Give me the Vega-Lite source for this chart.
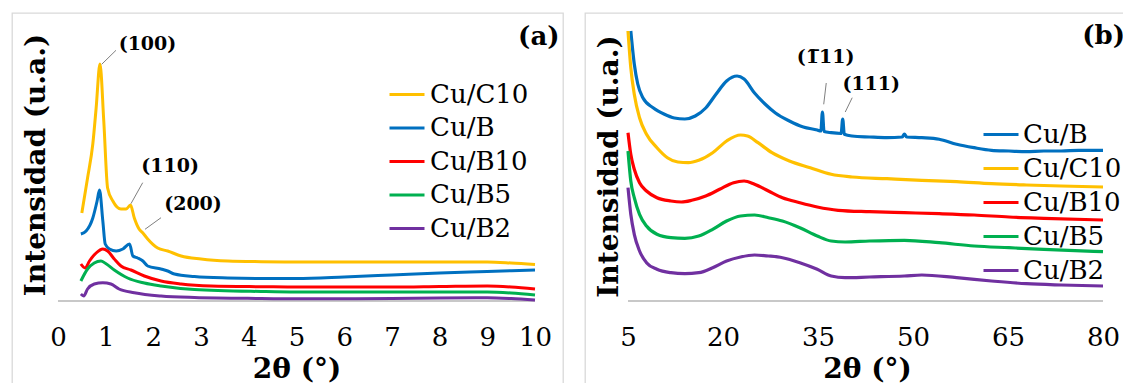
{
  "$schema": "https://vega.github.io/schema/vega-lite/v6.json",
  "background": "white",
  "padding": {"left": 11, "top": 12, "right": -10, "bottom": -9},
  "config": {
    "font": "DejaVu Serif",
    "view": {"stroke": "#d9d9d9", "strokeWidth": 1.3},
    "concat": {"spacing": 20},
    "axis": {"grid": false}
  },
  "datasets": {
    "xrdA": [
      {"muestra": "Cu/C10", "dos_theta": 0.5, "intensidad": 88},
      {"muestra": "Cu/C10", "dos_theta": 0.62, "intensidad": 123},
      {"muestra": "Cu/C10", "dos_theta": 0.73, "intensidad": 157},
      {"muestra": "Cu/C10", "dos_theta": 0.8, "intensidad": 193},
      {"muestra": "Cu/C10", "dos_theta": 0.88, "intensidad": 237},
      {"muestra": "Cu/C10", "dos_theta": 0.96, "intensidad": 180},
      {"muestra": "Cu/C10", "dos_theta": 1.04, "intensidad": 113},
      {"muestra": "Cu/C10", "dos_theta": 1.15, "intensidad": 100},
      {"muestra": "Cu/C10", "dos_theta": 1.32, "intensidad": 92},
      {"muestra": "Cu/C10", "dos_theta": 1.43, "intensidad": 92},
      {"muestra": "Cu/C10", "dos_theta": 1.52, "intensidad": 96},
      {"muestra": "Cu/C10", "dos_theta": 1.6, "intensidad": 83},
      {"muestra": "Cu/C10", "dos_theta": 1.7, "intensidad": 72},
      {"muestra": "Cu/C10", "dos_theta": 1.78, "intensidad": 68},
      {"muestra": "Cu/C10", "dos_theta": 1.88, "intensidad": 62},
      {"muestra": "Cu/C10", "dos_theta": 2.09, "intensidad": 53},
      {"muestra": "Cu/C10", "dos_theta": 2.3, "intensidad": 50},
      {"muestra": "Cu/C10", "dos_theta": 2.58, "intensidad": 45},
      {"muestra": "Cu/C10", "dos_theta": 3.0, "intensidad": 42},
      {"muestra": "Cu/C10", "dos_theta": 3.56, "intensidad": 40},
      {"muestra": "Cu/C10", "dos_theta": 4.26, "intensidad": 39.3},
      {"muestra": "Cu/C10", "dos_theta": 5, "intensidad": 39},
      {"muestra": "Cu/C10", "dos_theta": 6, "intensidad": 39},
      {"muestra": "Cu/C10", "dos_theta": 7, "intensidad": 39},
      {"muestra": "Cu/C10", "dos_theta": 8, "intensidad": 39},
      {"muestra": "Cu/C10", "dos_theta": 9, "intensidad": 39},
      {"muestra": "Cu/C10", "dos_theta": 9.5, "intensidad": 38},
      {"muestra": "Cu/C10", "dos_theta": 10, "intensidad": 36.5},
      {"muestra": "Cu/B", "dos_theta": 0.48, "intensidad": 67},
      {"muestra": "Cu/B", "dos_theta": 0.59, "intensidad": 70},
      {"muestra": "Cu/B", "dos_theta": 0.73, "intensidad": 83},
      {"muestra": "Cu/B", "dos_theta": 0.82, "intensidad": 100},
      {"muestra": "Cu/B", "dos_theta": 0.87, "intensidad": 111},
      {"muestra": "Cu/B", "dos_theta": 0.94, "intensidad": 80},
      {"muestra": "Cu/B", "dos_theta": 0.99, "intensidad": 57},
      {"muestra": "Cu/B", "dos_theta": 1.08, "intensidad": 52},
      {"muestra": "Cu/B", "dos_theta": 1.22, "intensidad": 50},
      {"muestra": "Cu/B", "dos_theta": 1.36, "intensidad": 52},
      {"muestra": "Cu/B", "dos_theta": 1.5, "intensidad": 57},
      {"muestra": "Cu/B", "dos_theta": 1.57, "intensidad": 45},
      {"muestra": "Cu/B", "dos_theta": 1.67, "intensidad": 43},
      {"muestra": "Cu/B", "dos_theta": 1.78, "intensidad": 40},
      {"muestra": "Cu/B", "dos_theta": 1.88, "intensidad": 35},
      {"muestra": "Cu/B", "dos_theta": 2.16, "intensidad": 32},
      {"muestra": "Cu/B", "dos_theta": 2.3, "intensidad": 30},
      {"muestra": "Cu/B", "dos_theta": 2.44, "intensidad": 27},
      {"muestra": "Cu/B", "dos_theta": 2.86, "intensidad": 24.5},
      {"muestra": "Cu/B", "dos_theta": 3.56, "intensidad": 23},
      {"muestra": "Cu/B", "dos_theta": 4.26, "intensidad": 22.5},
      {"muestra": "Cu/B", "dos_theta": 5, "intensidad": 22.5},
      {"muestra": "Cu/B", "dos_theta": 6, "intensidad": 24},
      {"muestra": "Cu/B", "dos_theta": 7, "intensidad": 26},
      {"muestra": "Cu/B", "dos_theta": 8, "intensidad": 28},
      {"muestra": "Cu/B", "dos_theta": 9, "intensidad": 29.5},
      {"muestra": "Cu/B", "dos_theta": 10, "intensidad": 31},
      {"muestra": "Cu/B10", "dos_theta": 0.48, "intensidad": 37},
      {"muestra": "Cu/B10", "dos_theta": 0.57, "intensidad": 33},
      {"muestra": "Cu/B10", "dos_theta": 0.66, "intensidad": 40},
      {"muestra": "Cu/B10", "dos_theta": 0.8, "intensidad": 48},
      {"muestra": "Cu/B10", "dos_theta": 0.94, "intensidad": 52},
      {"muestra": "Cu/B10", "dos_theta": 1.04, "intensidad": 50},
      {"muestra": "Cu/B10", "dos_theta": 1.18, "intensidad": 42},
      {"muestra": "Cu/B10", "dos_theta": 1.32, "intensidad": 35},
      {"muestra": "Cu/B10", "dos_theta": 1.53, "intensidad": 31},
      {"muestra": "Cu/B10", "dos_theta": 1.81, "intensidad": 25},
      {"muestra": "Cu/B10", "dos_theta": 2.16, "intensidad": 20},
      {"muestra": "Cu/B10", "dos_theta": 2.58, "intensidad": 17},
      {"muestra": "Cu/B10", "dos_theta": 3.21, "intensidad": 15},
      {"muestra": "Cu/B10", "dos_theta": 4.26, "intensidad": 14.3},
      {"muestra": "Cu/B10", "dos_theta": 5, "intensidad": 14},
      {"muestra": "Cu/B10", "dos_theta": 6, "intensidad": 14},
      {"muestra": "Cu/B10", "dos_theta": 7, "intensidad": 14},
      {"muestra": "Cu/B10", "dos_theta": 8, "intensidad": 14.5},
      {"muestra": "Cu/B10", "dos_theta": 9, "intensidad": 15},
      {"muestra": "Cu/B10", "dos_theta": 9.5, "intensidad": 14},
      {"muestra": "Cu/B10", "dos_theta": 10, "intensidad": 12},
      {"muestra": "Cu/B5", "dos_theta": 0.48, "intensidad": 20},
      {"muestra": "Cu/B5", "dos_theta": 0.62, "intensidad": 32},
      {"muestra": "Cu/B5", "dos_theta": 0.76, "intensidad": 38},
      {"muestra": "Cu/B5", "dos_theta": 0.9, "intensidad": 40},
      {"muestra": "Cu/B5", "dos_theta": 1.0, "intensidad": 37.5},
      {"muestra": "Cu/B5", "dos_theta": 1.18, "intensidad": 31},
      {"muestra": "Cu/B5", "dos_theta": 1.46, "intensidad": 23},
      {"muestra": "Cu/B5", "dos_theta": 1.81, "intensidad": 18},
      {"muestra": "Cu/B5", "dos_theta": 2.16, "intensidad": 15},
      {"muestra": "Cu/B5", "dos_theta": 2.86, "intensidad": 11.5},
      {"muestra": "Cu/B5", "dos_theta": 4.26, "intensidad": 9.5},
      {"muestra": "Cu/B5", "dos_theta": 5, "intensidad": 9},
      {"muestra": "Cu/B5", "dos_theta": 6, "intensidad": 9},
      {"muestra": "Cu/B5", "dos_theta": 7, "intensidad": 9},
      {"muestra": "Cu/B5", "dos_theta": 8, "intensidad": 9},
      {"muestra": "Cu/B5", "dos_theta": 9, "intensidad": 9},
      {"muestra": "Cu/B5", "dos_theta": 9.5, "intensidad": 8},
      {"muestra": "Cu/B5", "dos_theta": 10, "intensidad": 6},
      {"muestra": "Cu/B2", "dos_theta": 0.48, "intensidad": 7},
      {"muestra": "Cu/B2", "dos_theta": 0.54, "intensidad": 5},
      {"muestra": "Cu/B2", "dos_theta": 0.62, "intensidad": 12},
      {"muestra": "Cu/B2", "dos_theta": 0.76, "intensidad": 17},
      {"muestra": "Cu/B2", "dos_theta": 0.94, "intensidad": 18.3},
      {"muestra": "Cu/B2", "dos_theta": 1.11, "intensidad": 17},
      {"muestra": "Cu/B2", "dos_theta": 1.28, "intensidad": 12},
      {"muestra": "Cu/B2", "dos_theta": 1.6, "intensidad": 8.3},
      {"muestra": "Cu/B2", "dos_theta": 2.16, "intensidad": 5},
      {"muestra": "Cu/B2", "dos_theta": 2.86, "intensidad": 3.5},
      {"muestra": "Cu/B2", "dos_theta": 4.26, "intensidad": 2.5},
      {"muestra": "Cu/B2", "dos_theta": 5, "intensidad": 2.2},
      {"muestra": "Cu/B2", "dos_theta": 6, "intensidad": 2.2},
      {"muestra": "Cu/B2", "dos_theta": 7, "intensidad": 2.5},
      {"muestra": "Cu/B2", "dos_theta": 8, "intensidad": 3},
      {"muestra": "Cu/B2", "dos_theta": 9, "intensidad": 3.3},
      {"muestra": "Cu/B2", "dos_theta": 9.5, "intensidad": 2.5},
      {"muestra": "Cu/B2", "dos_theta": 10, "intensidad": 1}
    ],
    "xrdB": [
      {"muestra": "Cu/B", "dos_theta": 5.44, "intensidad": 269},
      {"muestra": "Cu/B", "dos_theta": 5.99, "intensidad": 236},
      {"muestra": "Cu/B", "dos_theta": 6.54, "intensidad": 216},
      {"muestra": "Cu/B", "dos_theta": 7.37, "intensidad": 202},
      {"muestra": "Cu/B", "dos_theta": 9.02, "intensidad": 192},
      {"muestra": "Cu/B", "dos_theta": 10.67, "intensidad": 186},
      {"muestra": "Cu/B", "dos_theta": 12.32, "intensidad": 182},
      {"muestra": "Cu/B", "dos_theta": 13.97, "intensidad": 181},
      {"muestra": "Cu/B", "dos_theta": 15.62, "intensidad": 184},
      {"muestra": "Cu/B", "dos_theta": 17.27, "intensidad": 192},
      {"muestra": "Cu/B", "dos_theta": 18.92, "intensidad": 206},
      {"muestra": "Cu/B", "dos_theta": 20.57, "intensidad": 219},
      {"muestra": "Cu/B", "dos_theta": 22.22, "intensidad": 224},
      {"muestra": "Cu/B", "dos_theta": 23.33, "intensidad": 221},
      {"muestra": "Cu/B", "dos_theta": 24.98, "intensidad": 207},
      {"muestra": "Cu/B", "dos_theta": 26.63, "intensidad": 196},
      {"muestra": "Cu/B", "dos_theta": 28.28, "intensidad": 187},
      {"muestra": "Cu/B", "dos_theta": 30.48, "intensidad": 179},
      {"muestra": "Cu/B", "dos_theta": 32.68, "intensidad": 173},
      {"muestra": "Cu/B", "dos_theta": 34.88, "intensidad": 170},
      {"muestra": "Cu/B", "dos_theta": 35.45, "intensidad": 169},
      {"muestra": "Cu/B", "dos_theta": 35.7, "intensidad": 188},
      {"muestra": "Cu/B", "dos_theta": 35.95, "intensidad": 168.5},
      {"muestra": "Cu/B", "dos_theta": 37.08, "intensidad": 167.3},
      {"muestra": "Cu/B", "dos_theta": 38.65, "intensidad": 166.5},
      {"muestra": "Cu/B", "dos_theta": 38.9, "intensidad": 181},
      {"muestra": "Cu/B", "dos_theta": 39.15, "intensidad": 165.7},
      {"muestra": "Cu/B", "dos_theta": 40.38, "intensidad": 164},
      {"muestra": "Cu/B", "dos_theta": 43.13, "intensidad": 163},
      {"muestra": "Cu/B", "dos_theta": 45.89, "intensidad": 162.3},
      {"muestra": "Cu/B", "dos_theta": 48.3, "intensidad": 163},
      {"muestra": "Cu/B", "dos_theta": 48.64, "intensidad": 166},
      {"muestra": "Cu/B", "dos_theta": 49.0, "intensidad": 163},
      {"muestra": "Cu/B", "dos_theta": 51.39, "intensidad": 162.3},
      {"muestra": "Cu/B", "dos_theta": 54.14, "intensidad": 160.7},
      {"muestra": "Cu/B", "dos_theta": 56.89, "intensidad": 155.7},
      {"muestra": "Cu/B", "dos_theta": 59.65, "intensidad": 152.3},
      {"muestra": "Cu/B", "dos_theta": 62.4, "intensidad": 149.7},
      {"muestra": "Cu/B", "dos_theta": 65.15, "intensidad": 149},
      {"muestra": "Cu/B", "dos_theta": 67.9, "intensidad": 148.3},
      {"muestra": "Cu/B", "dos_theta": 70.65, "intensidad": 149},
      {"muestra": "Cu/B", "dos_theta": 73.4, "intensidad": 149},
      {"muestra": "Cu/B", "dos_theta": 76.15, "intensidad": 149.7},
      {"muestra": "Cu/B", "dos_theta": 80, "intensidad": 149.7},
      {"muestra": "Cu/C10", "dos_theta": 5, "intensidad": 269},
      {"muestra": "Cu/C10", "dos_theta": 5.44, "intensidad": 232.3},
      {"muestra": "Cu/C10", "dos_theta": 5.99, "intensidad": 205.7},
      {"muestra": "Cu/C10", "dos_theta": 6.82, "intensidad": 182.3},
      {"muestra": "Cu/C10", "dos_theta": 7.92, "intensidad": 165.7},
      {"muestra": "Cu/C10", "dos_theta": 9.57, "intensidad": 152.3},
      {"muestra": "Cu/C10", "dos_theta": 11.22, "intensidad": 142.3},
      {"muestra": "Cu/C10", "dos_theta": 12.87, "intensidad": 138},
      {"muestra": "Cu/C10", "dos_theta": 14.52, "intensidad": 137.3},
      {"muestra": "Cu/C10", "dos_theta": 16.17, "intensidad": 139.7},
      {"muestra": "Cu/C10", "dos_theta": 18.37, "intensidad": 147.3},
      {"muestra": "Cu/C10", "dos_theta": 20.57, "intensidad": 159},
      {"muestra": "Cu/C10", "dos_theta": 22.77, "intensidad": 165},
      {"muestra": "Cu/C10", "dos_theta": 23.87, "intensidad": 164},
      {"muestra": "Cu/C10", "dos_theta": 25.53, "intensidad": 157.3},
      {"muestra": "Cu/C10", "dos_theta": 27.73, "intensidad": 147.3},
      {"muestra": "Cu/C10", "dos_theta": 30.48, "intensidad": 139},
      {"muestra": "Cu/C10", "dos_theta": 33.78, "intensidad": 132.3},
      {"muestra": "Cu/C10", "dos_theta": 37.08, "intensidad": 125.7},
      {"muestra": "Cu/C10", "dos_theta": 40.38, "intensidad": 123},
      {"muestra": "Cu/C10", "dos_theta": 45.89, "intensidad": 121.3},
      {"muestra": "Cu/C10", "dos_theta": 51.39, "intensidad": 119.7},
      {"muestra": "Cu/C10", "dos_theta": 56.89, "intensidad": 118.3},
      {"muestra": "Cu/C10", "dos_theta": 62.4, "intensidad": 116.3},
      {"muestra": "Cu/C10", "dos_theta": 67.9, "intensidad": 115},
      {"muestra": "Cu/C10", "dos_theta": 73.4, "intensidad": 114},
      {"muestra": "Cu/C10", "dos_theta": 80, "intensidad": 113},
      {"muestra": "Cu/B10", "dos_theta": 5, "intensidad": 167.3},
      {"muestra": "Cu/B10", "dos_theta": 5.44, "intensidad": 145.7},
      {"muestra": "Cu/B10", "dos_theta": 5.99, "intensidad": 130.7},
      {"muestra": "Cu/B10", "dos_theta": 6.82, "intensidad": 117.3},
      {"muestra": "Cu/B10", "dos_theta": 7.92, "intensidad": 109},
      {"muestra": "Cu/B10", "dos_theta": 9.57, "intensidad": 102.3},
      {"muestra": "Cu/B10", "dos_theta": 11.77, "intensidad": 99},
      {"muestra": "Cu/B10", "dos_theta": 13.42, "intensidad": 98},
      {"muestra": "Cu/B10", "dos_theta": 15.07, "intensidad": 99.7},
      {"muestra": "Cu/B10", "dos_theta": 17.27, "intensidad": 104},
      {"muestra": "Cu/B10", "dos_theta": 19.47, "intensidad": 110.7},
      {"muestra": "Cu/B10", "dos_theta": 21.67, "intensidad": 117.3},
      {"muestra": "Cu/B10", "dos_theta": 23.33, "intensidad": 119},
      {"muestra": "Cu/B10", "dos_theta": 24.98, "intensidad": 115.7},
      {"muestra": "Cu/B10", "dos_theta": 27.18, "intensidad": 109},
      {"muestra": "Cu/B10", "dos_theta": 29.38, "intensidad": 102.3},
      {"muestra": "Cu/B10", "dos_theta": 32.13, "intensidad": 97.3},
      {"muestra": "Cu/B10", "dos_theta": 34.88, "intensidad": 93},
      {"muestra": "Cu/B10", "dos_theta": 38.18, "intensidad": 89.7},
      {"muestra": "Cu/B10", "dos_theta": 43.13, "intensidad": 88.3},
      {"muestra": "Cu/B10", "dos_theta": 48.64, "intensidad": 87.3},
      {"muestra": "Cu/B10", "dos_theta": 54.14, "intensidad": 86.3},
      {"muestra": "Cu/B10", "dos_theta": 59.65, "intensidad": 85},
      {"muestra": "Cu/B10", "dos_theta": 65.15, "intensidad": 83},
      {"muestra": "Cu/B10", "dos_theta": 70.65, "intensidad": 81.7},
      {"muestra": "Cu/B10", "dos_theta": 80, "intensidad": 80},
      {"muestra": "Cu/B5", "dos_theta": 5, "intensidad": 149},
      {"muestra": "Cu/B5", "dos_theta": 5.44, "intensidad": 119},
      {"muestra": "Cu/B5", "dos_theta": 5.99, "intensidad": 102.3},
      {"muestra": "Cu/B5", "dos_theta": 6.82, "intensidad": 85.7},
      {"muestra": "Cu/B5", "dos_theta": 7.92, "intensidad": 74},
      {"muestra": "Cu/B5", "dos_theta": 9.57, "intensidad": 65.7},
      {"muestra": "Cu/B5", "dos_theta": 11.77, "intensidad": 62.3},
      {"muestra": "Cu/B5", "dos_theta": 13.97, "intensidad": 61.7},
      {"muestra": "Cu/B5", "dos_theta": 16.17, "intensidad": 64},
      {"muestra": "Cu/B5", "dos_theta": 18.37, "intensidad": 70.7},
      {"muestra": "Cu/B5", "dos_theta": 20.57, "intensidad": 79},
      {"muestra": "Cu/B5", "dos_theta": 22.77, "intensidad": 84},
      {"muestra": "Cu/B5", "dos_theta": 24.98, "intensidad": 85},
      {"muestra": "Cu/B5", "dos_theta": 27.18, "intensidad": 82.3},
      {"muestra": "Cu/B5", "dos_theta": 29.38, "intensidad": 79},
      {"muestra": "Cu/B5", "dos_theta": 32.13, "intensidad": 72.3},
      {"muestra": "Cu/B5", "dos_theta": 34.88, "intensidad": 64},
      {"muestra": "Cu/B5", "dos_theta": 37.08, "intensidad": 59},
      {"muestra": "Cu/B5", "dos_theta": 39.28, "intensidad": 58},
      {"muestra": "Cu/B5", "dos_theta": 43.13, "intensidad": 59},
      {"muestra": "Cu/B5", "dos_theta": 48.64, "intensidad": 59.7},
      {"muestra": "Cu/B5", "dos_theta": 54.14, "intensidad": 57.3},
      {"muestra": "Cu/B5", "dos_theta": 59.65, "intensidad": 54},
      {"muestra": "Cu/B5", "dos_theta": 65.15, "intensidad": 52.3},
      {"muestra": "Cu/B5", "dos_theta": 70.65, "intensidad": 50.7},
      {"muestra": "Cu/B5", "dos_theta": 80, "intensidad": 48.3},
      {"muestra": "Cu/B2", "dos_theta": 5, "intensidad": 112.3},
      {"muestra": "Cu/B2", "dos_theta": 5.44, "intensidad": 85.7},
      {"muestra": "Cu/B2", "dos_theta": 5.99, "intensidad": 65.7},
      {"muestra": "Cu/B2", "dos_theta": 6.82, "intensidad": 49},
      {"muestra": "Cu/B2", "dos_theta": 7.92, "intensidad": 37.3},
      {"muestra": "Cu/B2", "dos_theta": 9.57, "intensidad": 30.7},
      {"muestra": "Cu/B2", "dos_theta": 11.77, "intensidad": 27.3},
      {"muestra": "Cu/B2", "dos_theta": 13.97, "intensidad": 26.3},
      {"muestra": "Cu/B2", "dos_theta": 16.17, "intensidad": 27.3},
      {"muestra": "Cu/B2", "dos_theta": 18.37, "intensidad": 32.3},
      {"muestra": "Cu/B2", "dos_theta": 20.57, "intensidad": 39},
      {"muestra": "Cu/B2", "dos_theta": 22.77, "intensidad": 43},
      {"muestra": "Cu/B2", "dos_theta": 24.98, "intensidad": 45},
      {"muestra": "Cu/B2", "dos_theta": 27.18, "intensidad": 44},
      {"muestra": "Cu/B2", "dos_theta": 29.38, "intensidad": 42.3},
      {"muestra": "Cu/B2", "dos_theta": 32.13, "intensidad": 37.3},
      {"muestra": "Cu/B2", "dos_theta": 34.88, "intensidad": 30.7},
      {"muestra": "Cu/B2", "dos_theta": 37.08, "intensidad": 24},
      {"muestra": "Cu/B2", "dos_theta": 39.28, "intensidad": 22.3},
      {"muestra": "Cu/B2", "dos_theta": 43.13, "intensidad": 23},
      {"muestra": "Cu/B2", "dos_theta": 48.64, "intensidad": 24},
      {"muestra": "Cu/B2", "dos_theta": 51.39, "intensidad": 25},
      {"muestra": "Cu/B2", "dos_theta": 56.89, "intensidad": 22.3},
      {"muestra": "Cu/B2", "dos_theta": 62.4, "intensidad": 19},
      {"muestra": "Cu/B2", "dos_theta": 67.9, "intensidad": 16.3},
      {"muestra": "Cu/B2", "dos_theta": 73.4, "intensidad": 15},
      {"muestra": "Cu/B2", "dos_theta": 80, "intensidad": 14}
    ],
    "baseA": [{"dos_theta": 0, "dos_theta_fin": 10, "intensidad": 0}],
    "baseB": [{"dos_theta": 5, "dos_theta_fin": 80, "intensidad": -1}],
    "guiasA": [
      {"dos_theta": 0.916, "intensidad": 236.7, "dos_theta_fin": 1.216, "intensidad_fin": 250.7},
      {"dos_theta": 1.53, "intensidad": 97.3, "dos_theta_fin": 1.776, "intensidad_fin": 118.3},
      {"dos_theta": 1.824, "intensidad": 71.7, "dos_theta_fin": 2.16, "intensidad_fin": 83.3}
    ],
    "guiasB": [
      {"dos_theta": 35.9, "intensidad": 195.7, "dos_theta_fin": 36.3, "intensidad_fin": 217},
      {"dos_theta": 39.3, "intensidad": 188, "dos_theta_fin": 40.4, "intensidad_fin": 202.3}
    ],
    "picosA": [
      {"etiqueta": "(100)", "dos_theta": 1.876, "intensidad": 257},
      {"etiqueta": "(110)", "dos_theta": 2.35, "intensidad": 135},
      {"etiqueta": "(200)", "dos_theta": 2.83, "intensidad": 97}
    ],
    "picosB": [
      {"etiqueta": "(1̅11)", "dos_theta": 36.2, "intensidad": 243},
      {"etiqueta": "(111)", "dos_theta": 43.4, "intensidad": 216.5}
    ],
    "panelA": [{"etiqueta": "(a)", "dos_theta": 10.08, "intensidad": 264}],
    "panelB": [{"etiqueta": "(b)", "dos_theta": 80.1, "intensidad": 264}]
  },
  "hconcat": [
    {
      "width": 551,
      "height": 380,
      "encoding": {
        "x": {
          "field": "dos_theta", "type": "quantitative",
          "scale": {"domain": [-0.964, 10.587], "nice": false, "zero": false},
          "axis": {
            "title": "2θ (°)", "values": [0, 1, 2, 3, 4, 5, 6, 7, 8, 9, 10],
            "offset": -92, "domain": false, "ticks": false, "tickSize": 0,
            "labelFont": "DejaVu Serif", "labelFontSize": 26, "labelColor": "black",
            "labelBaseline": "middle", "labelPadding": 36, "labelFlush": false, "labelOverlap": false,
            "titleFont": "DejaVu Serif", "titleFontSize": 28, "titleFontWeight": "bold", "titleColor": "black",
            "titleX": 284.5, "titleY": 76, "titleAlign": "center", "titleBaseline": "alphabetic"
          }
        },
        "y": {
          "field": "intensidad", "type": "quantitative",
          "scale": {"domain": [-92, 288], "nice": false, "zero": false},
          "axis": {
            "title": "Intensidad (u.a.)", "labels": false, "ticks": false, "domain": false,
            "titleFont": "DejaVu Serif", "titleFontSize": 28, "titleFontWeight": "bold", "titleColor": "black",
            "titleX": 32, "titleY": 151.5, "titleAngle": -90, "titleAlign": "center", "titleBaseline": "alphabetic"
          }
        }
      },
      "layer": [
        {
          "data": {"name": "baseA"},
          "mark": {"type": "rule", "color": "#c8c8c8", "strokeWidth": 2},
          "encoding": {"x2": {"field": "dos_theta_fin"}}
        },
        {
          "data": {"name": "xrdA"},
          "mark": {"type": "line", "strokeWidth": 3, "interpolate": "monotone"},
          "encoding": {
            "color": {
              "field": "muestra", "type": "nominal",
              "scale": {
                "domain": ["Cu/C10", "Cu/B", "Cu/B10", "Cu/B5", "Cu/B2"],
                "range": ["#FFC000", "#0070C0", "#FF0000", "#00B050", "#7030A0"]
              },
              "legend": {
                "title": null, "orient": "none", "legendX": 376, "legendY": 62.5, "padding": 0,
                "symbolType": "stroke", "symbolSize": 1225, "symbolStrokeWidth": 3,
                "labelFont": "DejaVu Serif", "labelFontSize": 26, "labelColor": "black",
                "labelOffset": 4, "rowPadding": 1.5, "labelLimit": 300
              }
            }
          }
        },
        {
          "data": {"name": "guiasA"},
          "mark": {"type": "rule", "color": "#7f7f7f", "strokeWidth": 1},
          "encoding": {"x2": {"field": "dos_theta_fin"}, "y2": {"field": "intensidad_fin"}}
        },
        {
          "data": {"name": "picosA"},
          "mark": {"type": "text", "font": "DejaVu Serif", "fontSize": 19, "fontWeight": "bold", "color": "black", "align": "center", "baseline": "middle"},
          "encoding": {"text": {"field": "etiqueta"}}
        },
        {
          "data": {"name": "panelA"},
          "mark": {"type": "text", "font": "DejaVu Serif", "fontSize": 26, "fontWeight": "bold", "color": "black", "align": "center", "baseline": "middle"},
          "encoding": {"text": {"field": "etiqueta"}}
        }
      ]
    },
    {
      "width": 551,
      "height": 380,
      "encoding": {
        "x": {
          "field": "dos_theta", "type": "quantitative",
          "scale": {"domain": [-1.79, 85.21], "nice": false, "zero": false},
          "axis": {
            "title": "2θ (°)", "values": [5, 20, 35, 50, 65, 80],
            "offset": -93, "domain": false, "ticks": false, "tickSize": 0,
            "labelFont": "DejaVu Serif", "labelFontSize": 26, "labelColor": "black",
            "labelBaseline": "middle", "labelPadding": 37, "labelFlush": false, "labelOverlap": false,
            "titleFont": "DejaVu Serif", "titleFontSize": 28, "titleFontWeight": "bold", "titleColor": "black",
            "titleX": 282, "titleY": 77, "titleAlign": "center", "titleBaseline": "alphabetic"
          }
        },
        "y": {
          "field": "intensidad", "type": "quantitative",
          "scale": {"domain": [-93, 287], "nice": false, "zero": false},
          "axis": {
            "title": "Intensidad (u.a.)", "labels": false, "ticks": false, "domain": false,
            "titleFont": "DejaVu Serif", "titleFontSize": 28, "titleFontWeight": "bold", "titleColor": "black",
            "titleX": 32, "titleY": 153, "titleAngle": -90, "titleAlign": "center", "titleBaseline": "alphabetic"
          }
        }
      },
      "layer": [
        {
          "data": {"name": "baseB"},
          "mark": {"type": "rule", "color": "#c8c8c8", "strokeWidth": 2},
          "encoding": {"x2": {"field": "dos_theta_fin"}}
        },
        {
          "data": {"name": "xrdB"},
          "mark": {"type": "line", "strokeWidth": 3.2, "interpolate": "monotone"},
          "encoding": {
            "color": {
              "field": "muestra", "type": "nominal",
              "scale": {
                "domain": ["Cu/B", "Cu/C10", "Cu/B10", "Cu/B5", "Cu/B2"],
                "range": ["#0070C0", "#FFC000", "#FF0000", "#00B050", "#7030A0"]
              },
              "legend": {
                "title": null, "orient": "none", "legendX": 397, "legendY": 102.5, "padding": 0,
                "symbolType": "stroke", "symbolSize": 1225, "symbolStrokeWidth": 3,
                "labelFont": "DejaVu Serif", "labelFontSize": 26, "labelColor": "black",
                "labelOffset": 3, "rowPadding": 2, "labelLimit": 300
              }
            }
          }
        },
        {
          "data": {"name": "guiasB"},
          "mark": {"type": "rule", "color": "#7f7f7f", "strokeWidth": 1},
          "encoding": {"x2": {"field": "dos_theta_fin"}, "y2": {"field": "intensidad_fin"}}
        },
        {
          "data": {"name": "picosB"},
          "mark": {"type": "text", "font": "DejaVu Serif", "fontSize": 19, "fontWeight": "bold", "color": "black", "align": "center", "baseline": "middle"},
          "encoding": {"text": {"field": "etiqueta"}}
        },
        {
          "data": {"name": "panelB"},
          "mark": {"type": "text", "font": "DejaVu Serif", "fontSize": 26, "fontWeight": "bold", "color": "black", "align": "center", "baseline": "middle"},
          "encoding": {"text": {"field": "etiqueta"}}
        }
      ]
    }
  ],
  "resolve": {"scale": {"x": "independent", "y": "independent", "color": "independent"}}
}
